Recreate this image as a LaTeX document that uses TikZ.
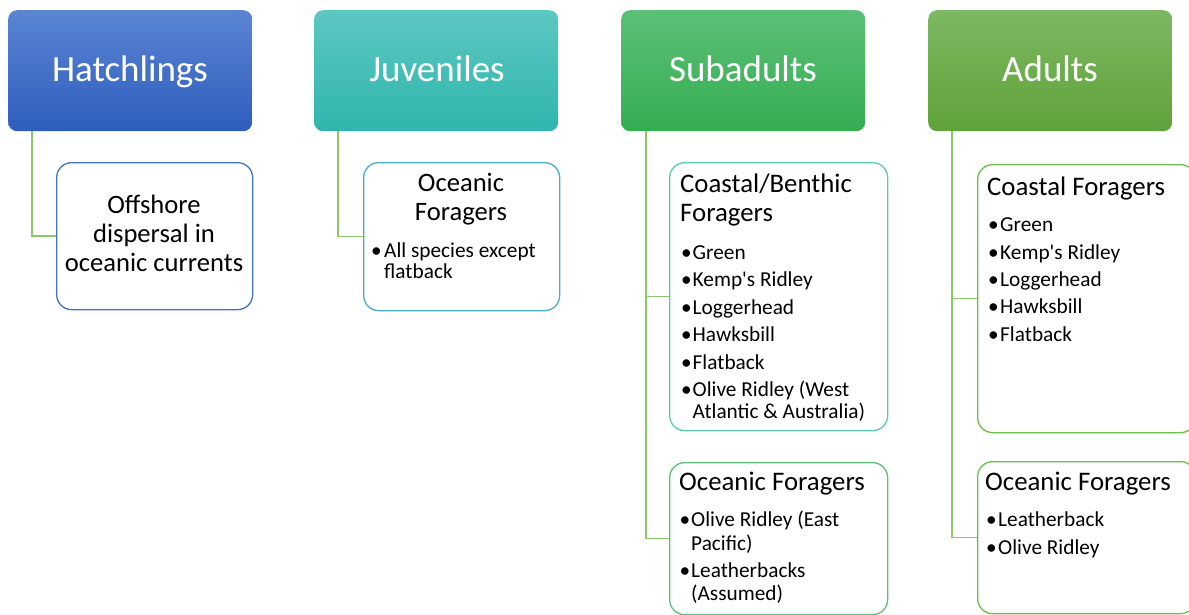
\documentclass[tikz,border=0pt]{standalone}
\usepackage{fontspec}
\setmainfont{Carlito}
\definecolor{conn}{HTML}{8DC56C}
\definecolor{hb}{HTML}{4472C4}
\definecolor{jb}{HTML}{4BACC6}
\definecolor{sb1}{HTML}{5EC8B4}
\definecolor{sb2}{HTML}{5CC07A}
\definecolor{ab}{HTML}{6ABF4B}
\definecolor{htop}{HTML}{5B84D3}\definecolor{hbot}{HTML}{2E5DBD}
\definecolor{jtop}{HTML}{5CC8C2}\definecolor{jbot}{HTML}{2FB5AC}
\definecolor{stop}{HTML}{5DBF77}\definecolor{sbot}{HTML}{34AE51}
\definecolor{atop}{HTML}{7DB862}\definecolor{abot}{HTML}{5FA239}
\tikzset{
  header/.style={rectangle, rounded corners=9pt, anchor=north west, inner sep=0pt,
    minimum width=244pt, minimum height=121pt},
  child/.style={rectangle, rounded corners=15pt, anchor=north west, inner sep=0pt,
    fill=white, line width=1.3pt, draw=#1},
  htxt/.style={inner sep=0pt, anchor=base, text=white, font=\fontsize{37}{37}\selectfont},
  ctxt/.style={inner sep=0pt, anchor=base, font=\fontsize{26.6}{26.6}\selectfont},
  ltxt/.style={inner sep=0pt, anchor=base west, font=\fontsize{26.8}{26.8}\selectfont},
  btxt/.style={inner sep=0pt, anchor=base west, font=\fontsize{21.3}{21.3}\selectfont},
  conn/.style={draw=conn, line width=1.6pt},
}
\begin{document}
\begin{tikzpicture}[x=1pt,y=-1pt]
\useasboundingbox (0,0) rectangle (1189,614);
% headers
\node[header, top color=htop, bottom color=hbot] (hh) at (8,10) {};
\node[header, top color=jtop, bottom color=jbot] (jh) at (314,10) {};
\node[header, top color=stop, bottom color=sbot] (sh) at (621,10) {};
\node[header, top color=atop, bottom color=abot] (ah) at (928,10) {};
\node[htxt] (hht) at (130,81) {Hatchlings};
\node[htxt] (jht) at (437,81) {Juveniles};
\node[htxt] (sht) at (743,81) {Subadults};
\node[htxt] (aht) at (1050,81) {Adults};
% child boxes
\node[child=hb, minimum width=196pt, minimum height=147pt] (hc) at (56,162) {};
\node[child=jb, minimum width=196pt, minimum height=148pt] (jc) at (363,162) {};
\node[child=sb1, minimum width=218pt, minimum height=268pt] (sc1) at (669,162) {};
\node[child=sb2, minimum width=218pt, minimum height=152pt] (sc2) at (669,462) {};
\node[child=ab, minimum width=218pt, minimum height=268pt] (ac1) at (977,164) {};
\node[child=ab, minimum width=218pt, minimum height=152pt] (ac2) at (977,461) {};
% connectors
\draw[conn] ([xshift=24pt]hh.south west) |- (hc.west);
\draw[conn] ([xshift=24pt]jh.south west) |- (jc.west);
\draw[conn] ([xshift=25pt]sh.south west) |- (sc1.west);
\draw[conn] ([xshift=25pt]sh.south west) |- (sc2.west);
\draw[conn] ([xshift=24pt]ah.south west) |- (ac1.west);
\draw[conn] ([xshift=24pt]ah.south west) |- (ac2.west);
% hatchling child text
\node[ctxt] (h1) at (154,213.3) {Offshore};
\node[ctxt] (h2) at (154,242.5) {dispersal in};
\node[ctxt] (h3) at (154,271.7) {oceanic currents};
% juvenile child text
\node[ctxt] (j1) at (461,191) {Oceanic};
\node[ctxt] (j2) at (461,220.7) {Foragers};
\node[btxt] (jb1) at (371,257.3) {\textbullet};
\node[btxt] (j3) at (384,257.3) {All species except};
\node[btxt] (j4) at (384,278.7) {flatback};
% subadult child 1
\node[ltxt] (s1) at (680,192.7) {Coastal/Benthic};
\node[ltxt] (s2) at (680,221.7) {Foragers};
\foreach \t [count=\i] in {Green, Kemp\textquotesingle s Ridley, Loggerhead, Hawksbill, Flatback, Olive Ridley (West}{
  \node[btxt] (sbul\i) at (681,{259.3+27.5*(\i-1)}) {\textbullet};
  \node[btxt] (sitem\i) at (692.5,{259.3+27.5*(\i-1)}) {\t};
}
\node[btxt] (sitem7) at (692.5,418.3) {Atlantic \& Australia)};
% subadult child 2
\node[ltxt] (o1) at (679,490.7) {Oceanic Foragers};
\node[btxt] (obul1) at (679.5,526.7) {\textbullet};
\node[btxt] (o2) at (691,526.7) {Olive Ridley (East};
\node[btxt] (o3) at (691,550) {Pacific)};
\node[btxt] (obul2) at (679.5,577.3) {\textbullet};
\node[btxt] (o4) at (691,577.3) {Leatherbacks};
\node[btxt] (o5) at (691,600) {(Assumed)};
% adult child 1
\node[ltxt] (a1) at (987,195) {Coastal Foragers};
\foreach \t [count=\i] in {Green, Kemp\textquotesingle s Ridley, Loggerhead, Hawksbill, Flatback}{
  \node[btxt] (abul\i) at (988,{231.7+27.4*(\i-1)}) {\textbullet};
  \node[btxt] (aitem\i) at (1000,{231.7+27.4*(\i-1)}) {\t};
}
% adult child 2
\node[ltxt] (b1) at (985,490) {Oceanic Foragers};
\node[btxt] (bbul1) at (986,526) {\textbullet};
\node[btxt] (b2) at (998,526) {Leatherback};
\node[btxt] (bbul2) at (986,554) {\textbullet};
\node[btxt] (b3) at (998,554) {Olive Ridley};
\end{tikzpicture}
\end{document}
